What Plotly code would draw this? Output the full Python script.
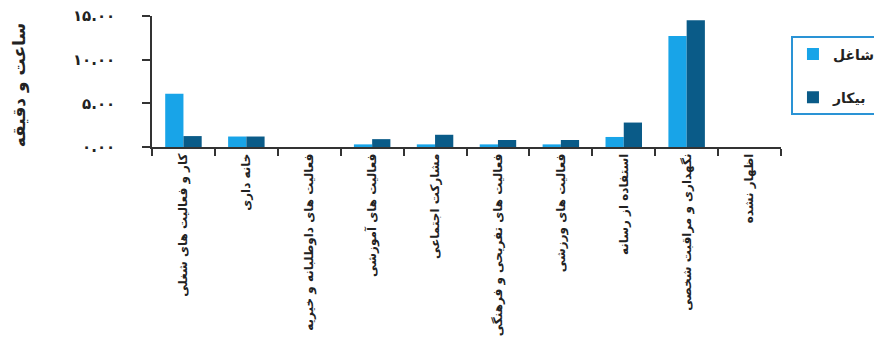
import plotly.graph_objects as go

categories = [
    "کار و فعالیت های شغلی",
    "خانه داری",
    "فعالیت های داوطلبانه و خیریه",
    "فعالیت های آموزشی",
    "مشارکت اجتماعی",
    "فعالیت های تفریحی و فرهنگی",
    "فعالیت های ورزشی",
    "استفاده از رسانه",
    "نگهداری و مراقبت شخصی",
    "اظهار نشده",
]
employed = [6.1, 1.2, 0, 0.3, 0.3, 0.3, 0.3, 1.15, 12.7, 0]
unemployed = [1.25, 1.2, 0, 0.9, 1.4, 0.8, 0.8, 2.8, 14.5, 0]
series_names = ["شاغل", "بیکار"]
ytick_vals = [0, 5, 10, 15]
ytick_text = ["۰.۰۰", "۵.۰۰", "۱۰.۰۰", "۱۵.۰۰"]
y_title = "ساعت و دقیقه"

FONT = "DejaVu Sans"
fig = go.Figure()
fig.add_trace(go.Bar(x=categories, y=employed, name=series_names[0],
                     marker=dict(color="#18a4e8", line=dict(width=0)),
                     legendgroup="a"))
fig.add_trace(go.Bar(x=categories, y=unemployed, name=series_names[1],
                     marker=dict(color="#0a5b88", line=dict(width=0)),
                     legendgroup="b"))

fig.update_layout(
    width=874, height=341,
    margin=dict(l=152, r=93, t=16, b=194),
    paper_bgcolor="white", plot_bgcolor="white",
    barmode="group", bargap=0.42, bargroupgap=0,
    font=dict(family=FONT, color="#333333"),
    showlegend=True,
    legend=dict(
        xref="container", yref="container",
        x=0.905, y=0.893, xanchor="left", yanchor="top",
        bordercolor="#2a93d5", borderwidth=2, bgcolor="white",
        font=dict(family=FONT, size=14, color="#222222", weight="bold"),
        tracegroupgap=22, itemwidth=30,
    ),
    xaxis=dict(
        showline=True, linecolor="#333333", linewidth=1.5,
        ticks="outside", ticklen=7, tickcolor="#333333", tickwidth=1.5,
        tickson="boundaries", tickangle=-90,
        tickfont=dict(family=FONT, size=12, color="#222222", weight="bold"),
        showgrid=False, automargin=False,
        range=[-0.5, 9.5],
    ),
    yaxis=dict(
        range=[0, 15], showline=True, linecolor="#333333", linewidth=1.5,
        ticks="outside", ticklen=8, tickcolor="#333333", tickwidth=1.5,
        tickvals=ytick_vals, ticktext=ytick_text,
        tickfont=dict(family=FONT, size=15, color="#222222", weight="bold"),
        ticklabelstandoff=24,
        showgrid=False, zeroline=False, automargin=False,
    ),
    annotations=[dict(
        text=y_title, textangle=-90, xref="paper", yref="paper",
        x=-0.21, y=0.47, xanchor="center", yanchor="middle", showarrow=False,
        font=dict(family=FONT, size=17, color="#222222", weight="bold"),
    )],
)

fig.write_html("out.html")
